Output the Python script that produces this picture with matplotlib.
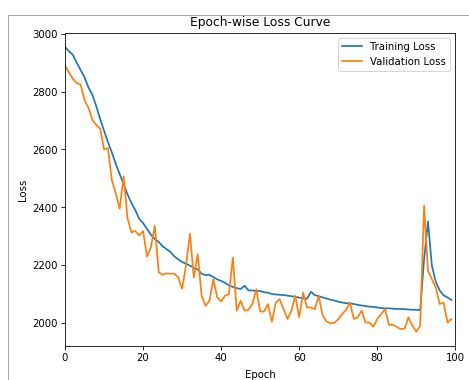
import matplotlib
matplotlib.use("Agg")
import matplotlib.pyplot as plt
from matplotlib.lines import Line2D
import numpy as np

epochs = list(range(100))

train_loss = [
    2955, 2940, 2928, 2900, 2875, 2850, 2815, 2790, 2750, 2705,
    2665, 2625, 2590, 2550, 2515, 2480, 2445, 2415, 2390, 2360,
    2345, 2325, 2305, 2290, 2280, 2265, 2255, 2245, 2230, 2220,
    2210, 2205, 2198, 2190, 2185, 2170, 2165, 2166, 2158, 2150,
    2145, 2138, 2130, 2124, 2120, 2117, 2128, 2112, 2112, 2110,
    2110, 2106, 2104, 2100, 2098, 2097, 2096, 2094, 2092, 2090,
    2087, 2085, 2083, 2107, 2096, 2092, 2088, 2084, 2080, 2077,
    2073, 2070, 2068, 2067, 2065, 2062, 2060, 2058, 2056, 2055,
    2053, 2051, 2050, 2050, 2049, 2048, 2048, 2047, 2046, 2045,
    2045, 2044, 2220, 2351, 2198, 2142, 2112, 2095, 2088, 2079,
]

val_loss = [
    2890, 2867, 2845, 2830, 2825, 2770, 2745, 2702, 2685, 2672,
    2600, 2605, 2493, 2448, 2395, 2507, 2362, 2313, 2318, 2302,
    2318, 2229, 2261, 2336, 2175, 2166, 2171, 2170, 2170, 2157,
    2117, 2200, 2308, 2157, 2238, 2094, 2059, 2076, 2151, 2088,
    2074, 2094, 2099, 2226, 2042, 2076, 2042, 2045, 2065, 2116,
    2039, 2039, 2065, 2003, 2070, 2082, 2047, 2013, 2042, 2094,
    2019, 2105, 2053, 2053, 2047, 2094, 2025, 2005, 1998, 2000,
    2012, 2030, 2045, 2070, 2013, 2019, 2042, 2001, 2001, 1986,
    2013, 2030, 2047, 1993, 1993, 1986, 1978, 1980, 2019, 1990,
    1969, 1990, 2406, 2180, 2151, 2122, 2065, 2070, 2001, 2013,
]

dpi = 73.28
fig = plt.figure(figsize=(469.3 / dpi, 380.3 / dpi), dpi=dpi)
ax = fig.add_axes([65 / 469, 1 - 346 / 380, 390 / 469, 313 / 380])

ax.plot(epochs, train_loss, label="Training Loss", color="#1f77b4", lw=1.7)
ax.plot(epochs, val_loss, label="Validation Loss", color="#ff7f0e", lw=1.7)
ax.set_xlim(0, 100)
ax.set_title("Epoch-wise Loss Curve", pad=7)
ax.set_xlabel("Epoch", labelpad=6)
ax.set_ylabel("Loss")
ax.legend(loc="upper right")

# screenshot frame lines
fig.add_artist(Line2D([8 / 469, 1], [1 - 15 / 380, 1 - 15 / 380],
                      transform=fig.transFigure, color="#a8a8a8", lw=1))
fig.add_artist(Line2D([8 / 469, 8 / 469], [0, 1 - 15 / 380],
                      transform=fig.transFigure, color="#a8a8a8", lw=1))

fig.savefig("out.png", dpi=dpi)
